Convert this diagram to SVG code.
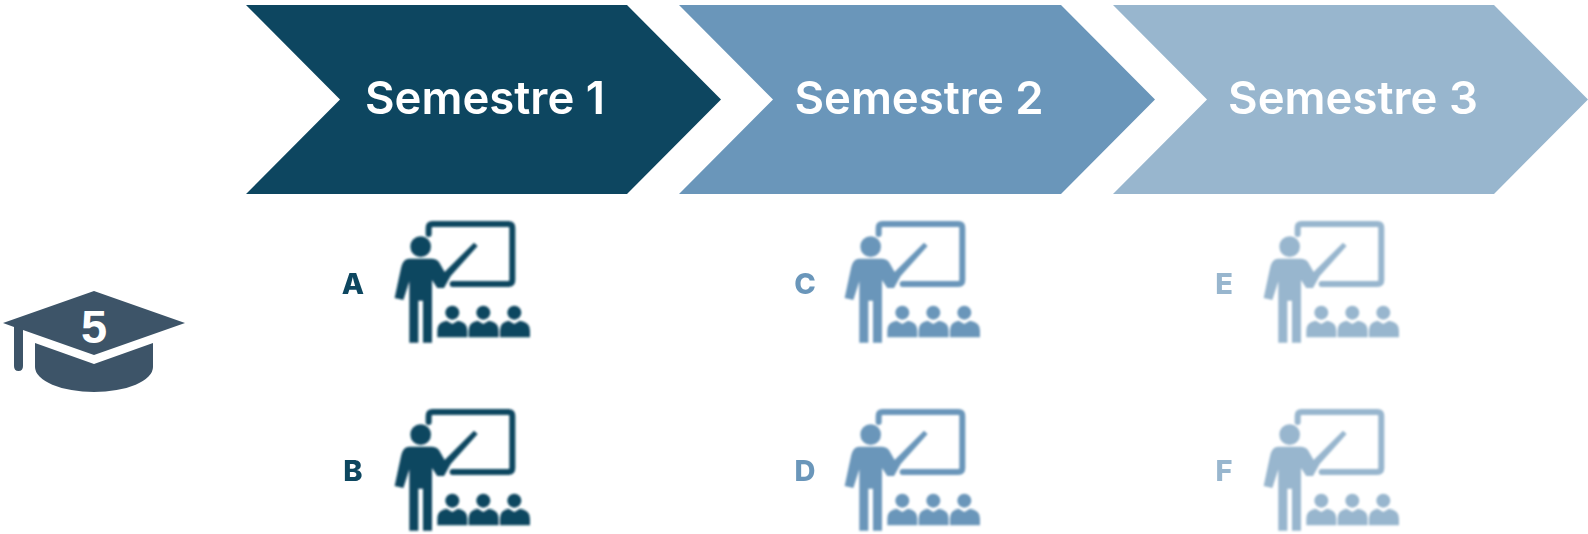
<svg xmlns="http://www.w3.org/2000/svg" xmlns:xlink="http://www.w3.org/1999/xlink" width="1588" height="534" viewBox="0 0 1588 534">
<style>
.sem{font-family:"Inter","Liberation Sans",sans-serif;font-size:45.500px;font-weight:600;fill:#fff;text-anchor:middle;filter:url(#softer)}
.let{font-family:"Inter","Liberation Sans",sans-serif;font-size:29px;font-weight:800;text-anchor:middle;filter:url(#softer)}
.dark{fill:#0d4660;color:#0d4660}.mid{fill:#6a96ba;color:#6a96ba}.light{fill:#98b6ce;color:#98b6ce}
.ic{filter:url(#soft)}
</style>
<defs>
<filter id="soft" x="-10%" y="-10%" width="120%" height="120%"><feGaussianBlur stdDeviation="0.8"/></filter>
<filter id="softer" x="-10%" y="-10%" width="120%" height="120%"><feGaussianBlur stdDeviation="0.5"/></filter>
<g id="teacher">
<g transform="translate(330 210) scale(0.3333)">
<path d="M296 72V54Q296 42 308 42H535Q547 42 547 54V210Q547 222 535 222H368" fill="none" stroke="currentColor" stroke-width="18" stroke-linecap="round"/>
<circle cx="272" cy="110" r="31" fill="currentColor"/>
<path d="M238 146H306Q324 146 332 165L344 186L432 98L443 108L362 198L342 234L322 234L306 210V398H279V272H265V398H238V214L220 270L194 264L214 170Q220 146 238 146Z" fill="currentColor"/>
<circle cx="367" cy="308" r="21" fill="currentColor"/><path d="M322 382V362Q322 336 350 332L367 342L384 332Q412 336 412 362V382Z" fill="currentColor"/>
<circle cx="460" cy="308" r="21" fill="currentColor"/><path d="M416 382V362Q416 336 443 332L460 342L477 332Q506 336 506 362V382Z" fill="currentColor"/>
<circle cx="553" cy="308" r="21" fill="currentColor"/><path d="M510 382V362Q510 336 536 332L553 342L570 332Q600 336 600 362V382Z" fill="currentColor"/>
</g>
</g>
</defs>
<g id="cap" fill="#3d5468">
<path d="M94 291L185 323L94 355L23 330V366Q23 371 18.500 371Q14 371 14 366V327L3 323Z"/>
<path d="M35 343L94 364L153 343V367A59 25 0 0 1 35 367Z"/>
<text x="94" y="343" font-family="Liberation Sans,sans-serif" font-size="47" font-weight="700" fill="#fff" text-anchor="middle">5</text>
</g>
<g id="semestre-1"><path class="dark" d="M246 5H627L721 99.500L627 194H246L340 99.500Z"/><text class="sem" x="485" y="114">Semestre 1</text></g>
<g id="semestre-2"><path class="mid" d="M679 5H1061L1155 99.500L1061 194H679L773 99.500Z"/><text class="sem" x="919" y="114">Semestre 2</text></g>
<g id="semestre-3"><path class="light" d="M1113 5H1494L1588 99.500L1494 194H1113L1207 99.500Z"/><text class="sem" x="1353" y="114">Semestre 3</text></g>
<g id="course-a"><text class="let dark" x="353" y="294">A</text><use xlink:href="#teacher" class="dark ic"/></g>
<g id="course-b"><text class="let dark" x="353" y="481">B</text><use xlink:href="#teacher" class="dark ic" y="188"/></g>
<g id="course-c"><text class="let mid" x="805" y="294">C</text><use xlink:href="#teacher" class="mid ic" x="450"/></g>
<g id="course-d"><text class="let mid" x="805" y="481">D</text><use xlink:href="#teacher" class="mid ic" x="450" y="188"/></g>
<g id="course-e"><text class="let light" x="1224" y="294">E</text><use xlink:href="#teacher" class="light ic" x="869"/></g>
<g id="course-f"><text class="let light" x="1224" y="481">F</text><use xlink:href="#teacher" class="light ic" x="869" y="188"/></g>
<g id="connectors"/>
</svg>
